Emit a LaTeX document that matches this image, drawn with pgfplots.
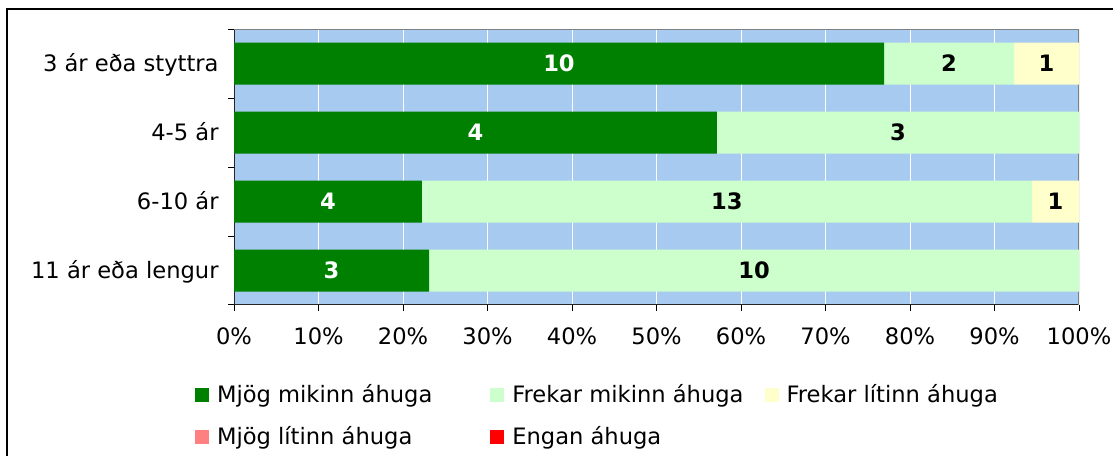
\documentclass[border=0pt]{standalone}
\usepackage{fontspec}
\setmainfont{DejaVu Sans}
\usepackage{pgfplots}
\pgfplotsset{compat=1.18}
\definecolor{bgblue}{HTML}{A6CAF0}
\definecolor{dgreen}{HTML}{008000}
\definecolor{lgreen}{HTML}{CCFFCC}
\definecolor{lyellow}{HTML}{FFFFCC}
\definecolor{lpink}{HTML}{FF8080}
\definecolor{lred}{HTML}{FF0000}
\begin{document}
\fontsize{11.3}{13}\selectfont
\begin{tikzpicture}
\clip (0,0) rectangle (556.5pt,227.5pt);
\draw[line width=1pt] (3.5pt,-5pt) -- (3.5pt,223pt) -- (600pt,223pt);
\begin{axis}[
  at={(117pt,75pt)}, anchor=south west,
  scale only axis, width=422.5pt, height=138pt,
  xbar stacked, bar width=21pt,
  xmin=0, xmax=100, ymin=-0.5, ymax=3.5,
  axis background/.style={fill=bgblue},
  xmajorgrids, grid style={white, line width=0.5pt},
  xtick={0,10,20,30,40,50,60,70,80,90,100},
  xticklabels={0\%,10\%,20\%,30\%,40\%,50\%,60\%,70\%,80\%,90\%,100\%},
  ytick={-0.5,0.5,1.5,2.5,3.5},
  yticklabels={{11 ár eða lengur},{6-10 ár},{4-5 ár},{3 ár eða styttra},{}},
  tick align=outside, tick pos=left,
  major tick length=3pt,
  tick style={black, line width=0.5pt},
  axis line style={draw=none},
  xticklabel style={anchor=north, inner sep=0pt, text height=8.2pt, text depth=0pt, yshift=-8.5pt},
  yticklabel style={anchor=east, inner sep=0pt, text height=8.2pt, text depth=0pt, yshift=17.25pt, xshift=-4.5pt},
  legend columns=3,
  legend cell align=left,
  legend image code/.code={\fill[#1] (0pt,-3.5pt) rectangle (7pt,3.5pt);},
  legend style={draw=none, fill=none, inner sep=0pt, outer sep=0pt,
    at={(axis description cs:-0.04615,-0.279)}, anchor=north west,
    nodes={inner sep=1pt}, row sep=8.5pt,
    /tikz/column 1/.style={column sep=3pt},
    /tikz/column 2/.style={column sep=28pt},
    /tikz/column 3/.style={column sep=3pt},
    /tikz/column 4/.style={column sep=9.5pt},
    /tikz/column 5/.style={column sep=3pt}},
]
\addplot[fill=dgreen, draw=none] coordinates {(76.923,3) (57.143,2) (22.222,1) (23.077,0)};
\addlegendentry{Mjög mikinn áhuga}
\addplot[fill=lgreen, draw=none] coordinates {(15.385,3) (42.857,2) (72.222,1) (76.923,0)};
\addlegendentry{Frekar mikinn áhuga}
\addplot[fill=lyellow, draw=none] coordinates {(7.692,3) (0,2) (5.556,1) (0,0)};
\addlegendentry{Frekar lítinn áhuga}
\addplot[fill=lpink, draw=none] coordinates {(0,3) (0,2) (0,1) (0,0)};
\addlegendentry{Mjög lítinn áhuga}
\addplot[fill=lred, draw=none] coordinates {(0,3) (0,2) (0,1) (0,0)};
\addlegendentry{Engan áhuga}
\draw[gray, line width=0.6pt] (rel axis cs:0,1) -- (rel axis cs:1,1) -- (rel axis cs:1,0);
\draw[black!85, line width=0.6pt] (rel axis cs:0,1) -- (rel axis cs:0,0) -- (rel axis cs:1,0);
\end{axis}
\begin{axis}[
  at={(117pt,75pt)}, anchor=south west,
  scale only axis, width=422.5pt, height=138pt,
  xmin=0, xmax=100, ymin=-0.5, ymax=3.5, hide axis,
]
\addplot[draw=none, mark=none, nodes near coords, point meta=explicit symbolic,
  every node near coord/.append style={anchor=center, text=white, font=\bfseries}]
  coordinates {(38.46,3)[10] (28.57,2)[4] (11.11,1)[4] (11.54,0)[3]};
\addplot[draw=none, mark=none, nodes near coords, point meta=explicit symbolic,
  every node near coord/.append style={anchor=center, text=black, font=\bfseries}]
  coordinates {(84.62,3)[2] (96.15,3)[1] (78.57,2)[3] (58.33,1)[13] (97.22,1)[1] (61.54,0)[10]};
\end{axis}
\end{tikzpicture}
\end{document}
